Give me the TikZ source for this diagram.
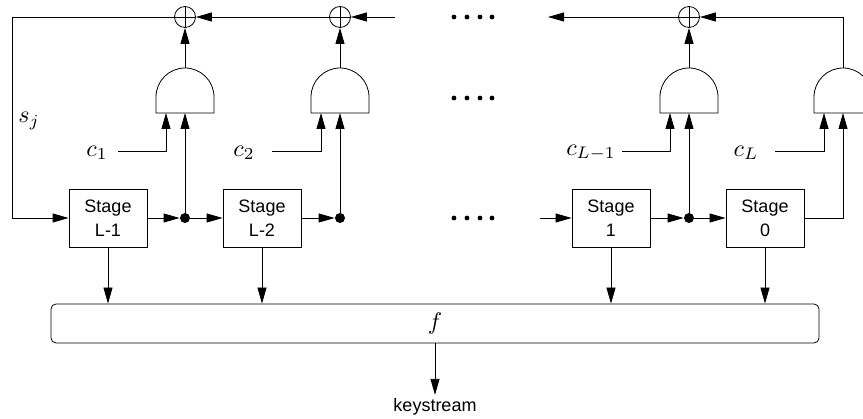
\documentclass[tikz,border=0pt]{standalone}
\usepackage{fontspec}
\setsansfont{Liberation Sans}
\usetikzlibrary{arrows.meta}
\tikzset{
  stagebox/.style={draw, minimum width=78pt, minimum height=58pt, inner sep=0pt,
    align=center, font=\sffamily\fontsize{18}{24}\selectfont},
  xorgate/.style={circle, draw, minimum size=21pt, inner sep=0pt},
  tap/.style={circle, fill, inner sep=0pt, minimum size=10pt},
  lbl/.style={scale=2.4},
  fbox/.style={draw, rounded corners=5pt, minimum width=768pt, minimum height=39pt},
  pics/andgate/.style={code={
    \draw (-29,0) -- (29,0) -- (29,-16) arc[start angle=0, end angle=-180, radius=29] -- cycle;
    \coordinate (-a) at (-19,0);
    \coordinate (-b) at (0,0);
    \coordinate (-o) at (0,-45);
  }}
}
\begin{document}
\begin{tikzpicture}[x=1pt, y=-1pt, line width=0.8pt,
    >={Triangle[length=16pt,width=9pt]}]
  \useasboundingbox (0,0) rectangle (863,419);
  % register stages
  \node[stagebox] (s1) at (108,218) {Stage\\L-1};
  \node[stagebox] (s2) at (262,218) {Stage\\L-2};
  \node[stagebox] (s3) at (611,218) {Stage\\1};
  \node[stagebox] (s4) at (765,218) {Stage\\0};
  \node[tap] (d1) at (185,218) {};
  \node[tap] (d2) at (340,218) {};
  \node[tap] (d3) at (689,218) {};
  % and gates and xors
  \pic (g1) at (185,113) {andgate};
  \pic (g2) at (340,113) {andgate};
  \pic (g3) at (689,113) {andgate};
  \pic (g4) at (843,113) {andgate};
  \node[xorgate] (x1) at (185,17) {};
  \node[xorgate] (x2) at (340,17) {};
  \node[xorgate] (x3) at (689,17) {};
  \foreach \n in {x1,x2,x3}
    \draw (\n.north) -- (\n.south) (\n.west) -- (\n.east);
  % labels
  \node[lbl] (sj) at (29,121) {$s_j$};
  \node[lbl] (c1) at (97,153) {$c_1$};
  \node[lbl] (c2) at (244,153) {$c_2$};
  \node[lbl] (c3) at (591,153) {$c_{L-1}$};
  \node[lbl] (c4) at (746,153) {$c_L$};
  \coordinate (c1e) at (118,151);
  \coordinate (c2e) at (272,151);
  \coordinate (c3e) at (622,151);
  \coordinate (c4e) at (775,151);
  \coordinate (fb) at (12,17);
  \coordinate (t2) at (395,17);
  \coordinate (t3) at (548,17);
  \coordinate (i3) at (540,218);
  % feedback line
  \draw[->] (x1.west) -- (fb) |- (s1.west);
  \draw[->] (x2.west) -- (x1.east);
  \draw[->] (t2) -- (x2.east);
  \draw[->] (x3.west) -- (t3);
  \draw[->] (g4-o) |- (x3.east);
  % shifting
  \draw[->] (s1.east) -- (d1);
  \draw[->] (d1) -- (s2.west);
  \draw[->] (s2.east) -- (d2);
  \draw[->] (i3) -- (s3.west);
  \draw[->] (s3.east) -- (d3);
  \draw[->] (d3) -- (s4.west);
  \draw[->] (s4.east) -| (g4-b);
  \draw[->] (d1) -- (g1-b); \draw[->] (d2) -- (g2-b); \draw[->] (d3) -- (g3-b);
  \draw[->] (g1-o) -- (x1.south); \draw[->] (g2-o) -- (x2.south);
  \draw[->] (g3-o) -- (x3.south);
  \draw[->] (c1e) -| (g1-a); \draw[->] (c2e) -| (g2-a);
  \draw[->] (c3e) -| (g3-a); \draw[->] (c4e) -| (g4-a);
  % dots
  \foreach \y in {17,98,218}
    \foreach \x in {454,467,480,492}
      \fill (\x,\y) circle[radius=2.4pt];
  % filter
  \node[fbox] (f) at (435,323.5) {};
  \node[lbl] (fl) at (f) {$f$};
  \foreach \s in {s1,s2,s3,s4}
    \draw[->] (\s.south) -- (\s.south |- f.north);
  \node[font=\sffamily\fontsize{18}{22}\selectfont] (ks) at (435,407) {keystream};
  \draw[->] (f.south) -- (ks.north);
\end{tikzpicture}
\end{document}
